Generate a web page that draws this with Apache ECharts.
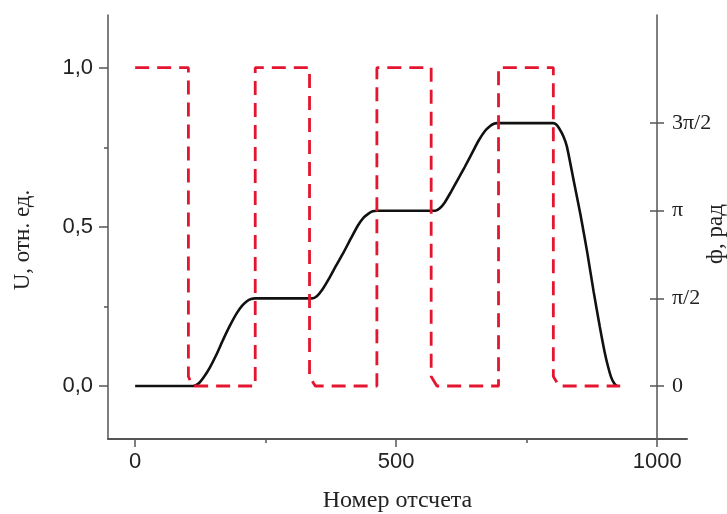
<!DOCTYPE html>
<html>
<head>
<meta charset="utf-8">
<script src="https://cdn.jsdelivr.net/npm/echarts@6/dist/echarts.min.js"></script>
<style>
  html, body { margin: 0; padding: 0; background: #fff; }
  #chart { width: 727px; height: 514px; }
</style>
</head>
<body>
<div id="chart"></div>
<script>
// Reference signal: U (relative units) versus sample number
const refX = [0, 102, 102, 110, 230, 230, 334, 334, 345, 463, 463, 567, 567, 578, 696, 696, 801, 801, 812, 929];
const refU = [1, 1, 0.03, 0, 0, 1, 1, 0.03, 0, 0, 1, 1, 0.03, 0, 0, 1, 1, 0.03, 0, 0];

// Phase (radians) versus sample number
const phaseX = [
  0, 111, 122, 133, 143, 156, 169, 182, 195, 205, 214, 222, 230,
  339, 348, 358, 371, 385, 399, 413, 427, 438, 447, 455, 463,
  575, 583, 593, 605, 618, 631, 645, 658, 670, 680, 687, 693,
  801, 806, 812, 820, 827, 840, 853, 866, 878, 890, 899, 906, 912, 918, 923
];
const phaseRad = [
  0, 0, 0.05, 0.18, 0.33, 0.57, 0.84, 1.09, 1.31, 1.44, 1.52, 1.56, 1.571,
  1.571, 1.61, 1.72, 1.92, 2.16, 2.39, 2.64, 2.88, 3.02, 3.09, 3.13, 3.142,
  3.142, 3.18, 3.29, 3.48, 3.70, 3.92, 4.17, 4.40, 4.57, 4.66, 4.70, 4.712,
  4.712, 4.69, 4.62, 4.48, 4.29, 3.68, 3.07, 2.39, 1.70, 1.06, 0.62, 0.34, 0.15, 0.04, 0
];

// Tick positions and labels
const xMajorTicks = [0, 500, 1000];
const xMinorTicks = [250, 750];
const uMajorTicks = [0, 0.5, 1.0];
const uMinorTicks = [0.25, 0.75];
const phaseTicks = [0, Math.PI / 2, Math.PI, 3 * Math.PI / 2];
const phaseTickLabels = ['0', 'π/2', 'π', '3π/2'];

const X_MIN = -52, X_MAX = 1057;
const U_MIN = -0.1665, U_MAX = 1.1655;
const PH_MIN = -0.95, PH_MAX = 6.649;

const sansFont = 'Liberation Sans, Arial, sans-serif';
const serifFont = 'Liberation Serif, Times New Roman, serif';
const axisColor = '#555';
const textColor = '#222';

const chart = echarts.init(document.getElementById('chart'), null, { renderer: 'canvas' });

const phaseLabel = v => {
  for (let i = 0; i < phaseTicks.length; i++) {
    if (Math.abs(v - phaseTicks[i]) < 1e-6) return phaseTickLabels[i];
  }
  return '';
};

chart.setOption({
  animation: false,
  backgroundColor: '#fff',
  grid: { left: 108, right: 40, top: 15, bottom: 75, containLabel: false, outerBoundsMode: 'none' },
  xAxis: [
    {
      type: 'value', position: 'bottom', min: X_MIN, max: X_MAX,
      name: 'Номер отсчета', nameLocation: 'middle', nameGap: 50,
      nameMoveOverlap: false,
      nameTextStyle: { fontFamily: serifFont, fontSize: 24, color: textColor },
      axisLine: { show: true, onZero: false, lineStyle: { color: axisColor, width: 2 } },
      axisTick: { show: true, inside: false, length: 8, customValues: xMajorTicks, lineStyle: { color: axisColor, width: 1.5 } },
      axisLabel: {
        show: true, customValues: xMajorTicks, margin: 12,
        fontFamily: sansFont, fontSize: 22, color: textColor,
        formatter: v => String(v)
      },
      splitLine: { show: false }
    },
    {
      type: 'value', position: 'bottom', min: X_MIN, max: X_MAX,
      axisLine: { show: false, onZero: false },
      axisTick: { show: true, inside: false, length: 4, customValues: xMinorTicks, lineStyle: { color: axisColor, width: 1.5 } },
      axisLabel: { show: false },
      splitLine: { show: false }
    }
  ],
  yAxis: [
    {
      type: 'value', position: 'left', min: U_MIN, max: U_MAX,
      name: 'U, отн. ед.', nameLocation: 'middle', nameGap: 74, nameRotate: 90,
      nameMoveOverlap: false,
      nameTextStyle: { fontFamily: serifFont, fontSize: 23, color: textColor, padding: [0, 26, 0, 0] },
      axisLine: { show: true, onZero: false, lineStyle: { color: axisColor, width: 1.5 } },
      axisTick: { show: true, inside: false, length: 9, customValues: uMajorTicks, lineStyle: { color: axisColor, width: 1.5 } },
      axisLabel: {
        show: true, customValues: uMajorTicks, margin: 15,
        fontFamily: sansFont, fontSize: 22, color: textColor,
        formatter: v => v.toFixed(1).replace('.', ',')
      },
      splitLine: { show: false }
    },
    {
      type: 'value', position: 'right', offset: -30, min: PH_MIN, max: PH_MAX,
      name: 'ф, рад', nameLocation: 'middle', nameGap: 47, nameRotate: 90,
      nameMoveOverlap: false,
      nameTextStyle: { fontFamily: serifFont, fontSize: 23, color: textColor, padding: [0, 14, 0, 0] },
      axisLine: { show: true, onZero: false, lineStyle: { color: axisColor, width: 1.5 } },
      axisTick: { show: true, inside: false, length: 7, customValues: phaseTicks, lineStyle: { color: axisColor, width: 1.5 } },
      axisLabel: {
        show: true, customValues: phaseTicks, margin: 15,
        fontFamily: serifFont, fontSize: 22, color: textColor,
        formatter: phaseLabel
      },
      splitLine: { show: false }
    },
    {
      type: 'value', position: 'right', offset: -30, min: PH_MIN, max: PH_MAX,
      axisLine: { show: false, onZero: false },
      axisTick: { show: true, inside: true, length: 7, customValues: phaseTicks, lineStyle: { color: axisColor, width: 1.5 } },
      axisLabel: { show: false },
      splitLine: { show: false }
    },
    {
      type: 'value', position: 'left', min: U_MIN, max: U_MAX,
      axisLine: { show: false, onZero: false },
      axisTick: { show: true, inside: false, length: 4, customValues: uMinorTicks, lineStyle: { color: axisColor, width: 1.5 } },
      axisLabel: { show: false },
      splitLine: { show: false }
    }
  ],
  series: [
    {
      name: 'ф',
      type: 'line',
      xAxisIndex: 0,
      yAxisIndex: 1,
      data: phaseX.map((x, i) => [x, phaseRad[i]]),
      showSymbol: false,
      smooth: 0.2,
      lineStyle: { color: '#111', width: 2.6 },
      z: 2
    },
    {
      name: 'U',
      type: 'line',
      xAxisIndex: 0,
      yAxisIndex: 0,
      data: refX.map((x, i) => [x, refU[i]]),
      showSymbol: false,
      lineStyle: { color: '#e3152f', width: 2.8, type: [14, 8] },
      z: 3
    }
  ]
});
</script>
</body>
</html>
